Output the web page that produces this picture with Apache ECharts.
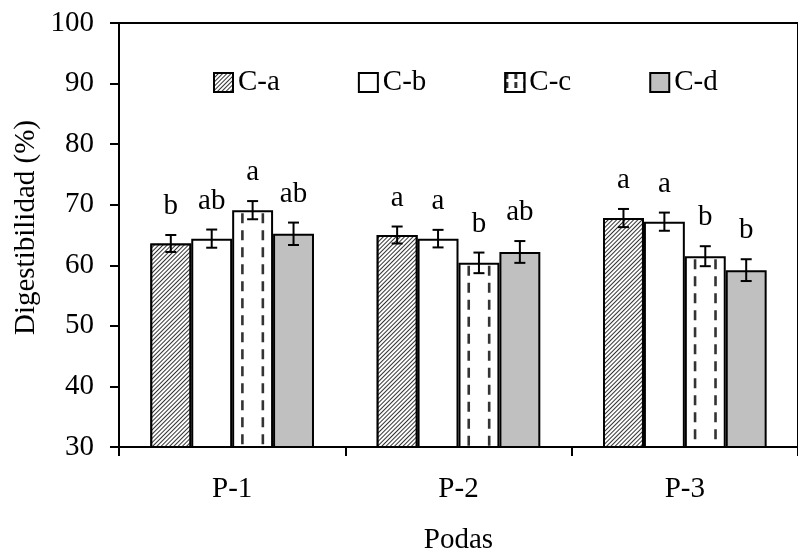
<!DOCTYPE html>
<html>
<head>
<meta charset="utf-8">
<script src="https://cdn.jsdelivr.net/npm/echarts@6/dist/echarts.min.js"></script>
<style>html,body{margin:0;padding:0;background:#fff;}#c{width:798px;height:560px;}</style>
</head>
<body>
<div id="c"></div>
<script>
const categories = ['P-1', 'P-2', 'P-3'];
const seriesNames = ['C-a', 'C-b', 'C-c', 'C-d'];
const valuesCa = [63.6, 65.0, 67.8];
const valuesCb = [64.4, 64.4, 67.2];
const valuesCc = [69.1, 60.4, 61.5];
const valuesCd = [65.2, 62.2, 59.2];
const errCa = [1.4, 1.4, 1.5];
const errCb = [1.5, 1.45, 1.5];
const errCc = [1.5, 1.7, 1.65];
const errCd = [1.85, 1.8, 1.8];
const lettersCa = ['b', 'a', 'a'];
const lettersCb = ['ab', 'a', 'a'];
const lettersCc = ['a', 'b', 'b'];
const lettersCd = ['ab', 'ab', 'b'];
const yTicks = [30, 40, 50, 60, 70, 80, 90, 100];

const values = [valuesCa, valuesCb, valuesCc, valuesCd];
const errs = [errCa, errCb, errCc, errCd];
const letters = [lettersCa, lettersCb, lettersCc, lettersCd];

const FONT = 'Liberation Serif';
const FS = 29;
const CAT_GAP = 0.277;

const hatchDecal = { symbol: 'rect', color: '#333333', backgroundColor: '#ffffff', dashArrayX: [1, 0], dashArrayY: [1, 2], rotation: -Math.PI / 4, symbolSize: 1 };
const dashDecal = { symbol: 'rect', color: '#333333', backgroundColor: '#ffffff', dashArrayX: [3, 6], dashArrayY: [6, 3], symbolSize: 1 };

const styles = [
  { color: '#ffffff', borderColor: '#000', borderWidth: 2, decal: hatchDecal },
  { color: '#ffffff', borderColor: '#000', borderWidth: 2 },
  { color: '#ffffff', borderColor: '#000', borderWidth: 2 },
  { color: '#c0c0c0', borderColor: '#000', borderWidth: 2 }
];

const errData = [];
for (let s = 0; s < 4; s++) {
  for (let c = 0; c < categories.length; c++) {
    errData.push([c, s, values[s][c], errs[s][c], letters[s][c]]);
  }
}

const series = seriesNames.map((n, i) => ({
  name: n,
  type: 'bar',
  data: values[i],
  barGap: '0%',
  barCategoryGap: (CAT_GAP * 100) + '%',
  itemStyle: styles[i],
  emphasis: { disabled: true },
  z: 2
}));

series.push({
  name: 'err',
  type: 'custom',
  data: errData,
  encode: { x: 0, y: 2 },
  z: 5,
  renderItem: function (params, api) {
    const c = api.value(0), s = api.value(1), v = api.value(2), e = api.value(3);
    const letter = errData[params.dataIndex][4];
    const band = api.size([1, 0])[0];
    const bw = band * (1 - CAT_GAP) / 4;
    const center = api.coord([c, v]);
    const left = center[0] - 2 * bw + bw * s;
    const x = left + bw / 2;
    const yTop = api.coord([c, v + e])[1];
    const yBot = api.coord([c, v - e])[1];
    const yBar = center[1];
    const yBase = api.coord([c, yTicks[0]])[1];
    const cap = 5.5;
    const st = { stroke: '#000', lineWidth: 2 };
    const children = [];
    if (s === 2) {
      const ds = { stroke: '#333', lineWidth: 2.6, lineDash: [10, 7] };
      [0.25, 0.75].forEach(function (f) {
        const dx = left + bw * f;
        children.push({ type: 'line', shape: { x1: dx, y1: yBar + 3, x2: dx, y2: yBase - 1 }, style: ds, z2: 1 });
      });
    }
    children.push(
      { type: 'line', shape: { x1: x, y1: yTop, x2: x, y2: yBot }, style: st, z2: 5 },
      { type: 'line', shape: { x1: x - cap, y1: yTop, x2: x + cap, y2: yTop }, style: st, z2: 5 },
      { type: 'line', shape: { x1: x - cap, y1: yBot, x2: x + cap, y2: yBot }, style: st, z2: 5 },
      { type: 'text', x: x, y: yTop - 14, style: { text: letter, fill: '#000', font: FS + 'px "' + FONT + '"', align: 'center', verticalAlign: 'bottom' }, z2: 5 }
    );
    return { type: 'group', children: children };
  }
});

const chart = echarts.init(document.getElementById('c'), null, { renderer: 'canvas' });
chart.setOption({
  animation: false,
  backgroundColor: '#ffffff',
  textStyle: { fontFamily: FONT, color: '#000' },
  grid: { left: 119, top: 23, right: -9, bottom: 112, show: true, borderColor: '#000', borderWidth: 2, backgroundColor: 'transparent' },
  legend: {
    data: [
      { name: 'C-a' },
      { name: 'C-b' },
      { name: 'C-c', itemStyle: { color: '#ffffff', borderColor: '#000', borderWidth: 2, decal: dashDecal } },
      { name: 'C-d' }
    ],
    left: 208, top: 63,
    itemWidth: 19, itemHeight: 19, itemGap: 78,
    icon: 'rect',
    textStyle: { fontFamily: FONT, fontSize: FS, color: '#000' },
    selectedMode: false
  },
  xAxis: {
    type: 'category',
    data: categories,
    name: 'Podas',
    nameLocation: 'middle',
    nameGap: 79,
    nameTextStyle: { fontFamily: FONT, fontSize: FS, color: '#000' },
    axisLine: { lineStyle: { color: '#000', width: 2 } },
    axisTick: { show: true, length: 9, inside: false, lineStyle: { color: '#000', width: 2 } },
    axisLabel: { fontFamily: FONT, fontSize: FS, color: '#000', margin: 28 }
  },
  yAxis: {
    type: 'value',
    min: yTicks[0], max: yTicks[yTicks.length - 1], interval: 10,
    axisLine: { show: true, lineStyle: { color: '#000', width: 2 } },
    axisTick: { show: true, length: 9, lineStyle: { color: '#000', width: 2 } },
    axisLabel: { fontFamily: FONT, fontSize: FS, color: '#000', margin: 25 },
    splitLine: { show: false }
  },
  graphic: [{
    type: 'text', left: 12, top: 120, rotation: Math.PI / 2,
    style: { text: 'Digestibilidad (%)', font: FS + 'px "' + FONT + '"', fill: '#000' }
  }],
  series: series
});
</script>
</body>
</html>
